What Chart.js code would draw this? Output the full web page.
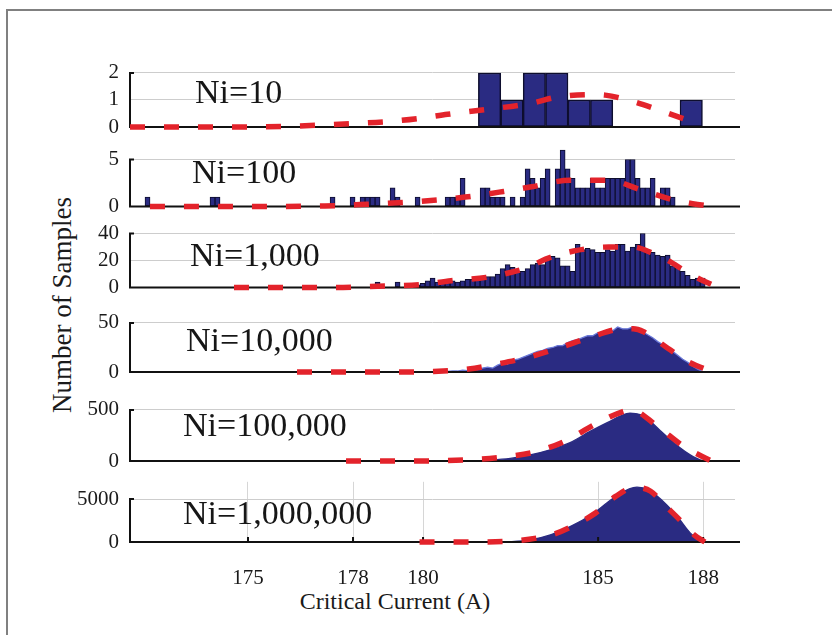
<!DOCTYPE html>
<html>
<head>
<meta charset="utf-8">
<script src="https://cdn.jsdelivr.net/npm/chart.js@4.4.1/dist/chart.umd.min.js"></script>
<style>
  body { margin: 0; background: #fff; }
  #wrap { position: relative; width: 832px; height: 635px; overflow: hidden; font-family: "Liberation Serif", "Times New Roman", serif; }
  #frame { position: absolute; left: 6px; top: 9px; width: 840px; height: 640px; border-top: 2px solid #808080; border-left: 2px solid #808080; }
  canvas { position: absolute; left: 0; }
  .ni { position: absolute; font-size: 34px; line-height: 34px; color: #161616; white-space: nowrap; z-index: 5; }
  #ytitle { position: absolute; width: 300px; left: -88px; top: 290px; text-align: center; font-size: 27px; line-height: 30px; color: #1a1a1a; transform: rotate(-90deg); white-space: nowrap; }
  #xtitle { position: absolute; width: 300px; left: 245px; top: 586px; text-align: center; font-size: 24px; line-height: 30px; color: #1a1a1a; white-space: nowrap; }
</style>
</head>
<body>
<div id="wrap">
  <div id="frame"></div>
  <div id="ytitle">Number of Samples</div>
  <div id="xtitle">Critical Current (A)</div>
</div>
<script>
// x axis (critical current, A)
const xMin = 171.63, xMax = 188.91;
const xTicks = [175, 178, 180, 185, 188];

const panelLabels = ['Ni=10', 'Ni=100', 'Ni=1,000', 'Ni=10,000', 'Ni=100,000', 'Ni=1,000,000'];

// Ni = 10 : wide bins
const ni10BinStart = 181.9;
const ni10BinWidth = 0.64;
const ni10Counts = [2, 1, 2, 2, 1, 1, 0, 0, 0, 1];
const ni10Ticks = [0, 1, 2];
const ni10FitX = [171.63, 173, 174.5, 176, 177.9, 179.0, 179.9, 180.7, 181.8, 183.1, 183.8, 184.8, 185.2, 185.9, 186.9, 187.9];
const ni10FitY = [0, 0, 0, 0.02, 0.12, 0.2, 0.32, 0.47, 0.65, 0.88, 1.1, 1.2, 1.18, 0.98, 0.55, 0.1];

// Ni = 100, 1,000 and 10,000 share a fine 1/7 A grid
const fineBinStart = 172.13;
const fineBinWidth = 1 / 7;

const ni100Counts = [
  1, 0, 0, 0, 0, 0, 0, 0, 0, 0,
  0, 0, 0, 1, 1, 0, 0, 0, 0, 0,
  0, 0, 0, 0, 0, 0, 0, 0, 0, 0,
  0, 0, 0, 0, 0, 0, 0, 1, 0, 0,
  0, 1, 0, 1, 1, 1, 1, 0, 0, 2,
  1, 0, 0, 0, 1, 0, 0, 0, 0, 0,
  1, 1, 1, 3, 0, 0, 0, 2, 2, 1,
  1, 1, 0, 1, 0, 1, 4, 3, 2, 3,
  4, 0, 4, 6, 4, 3, 2, 2, 2, 3,
  2, 2, 3, 3, 3, 3, 5, 5, 3, 2,
  2, 3, 0, 2, 2, 1
];
const ni100Ticks = [0, 5];
const ni100FitX = [172.2, 175, 177.2, 178.2, 179.9, 181.2, 182.3, 183.1, 184.2, 185.3, 186.2, 187.1, 187.7, 188.3];
const ni100FitY = [0, 0, 0.05, 0.2, 0.55, 1.0, 1.6, 2.1, 2.8, 2.8, 1.8, 0.75, 0.3, 0];

const ni1kFirstBin = 46;
const ni1kCounts = [
  4, 0, 0, 0, 4, 0, 1, 2, 2, 3,
  5, 7, 4, 4, 5, 5, 4, 5, 6, 6,
  7, 7, 8, 8, 10, 14, 17, 15, 12, 12,
  14, 17, 18, 17, 22, 23, 22, 16, 16, 12,
  32, 28, 29, 28, 26, 26, 28, 27, 32, 32,
  27, 30, 32, 40, 28, 26, 24, 23, 24, 16,
  15, 12, 9, 6, 7, 7
];
const ni1kTicks = [0, 20, 40];
const ni1kFitX = [174.6, 176, 177.5, 178.7, 179.9, 180.8, 181.8, 182.7, 183.1, 183.5, 184.3, 185.3, 186.0, 186.5, 187.0, 187.5, 188.0, 188.35];
const ni1kFitY = [0, 0, 0, 1, 2, 5, 7.5, 12.5, 16, 21, 27, 30, 30, 26, 20, 12, 5, 1];

const ni10kFirstBin = 59;
const ni10kCounts = [
  0, 0.5, 1, 1, 2, 1.5, 3, 2.5, 4, 5,
  4, 7, 9, 8, 12, 13, 15, 17, 19, 21,
  22, 24, 25, 27, 27, 30, 32, 33, 35, 37,
  37, 40, 41, 43, 42, 46, 44, 44, 46, 43,
  41, 38, 35, 31, 28, 24, 21, 17, 13, 10,
  6, 3, 0.5
];
const ni10kTicks = [0, 50];
const ni10kFitX = [176.4, 177.5, 178.5, 179.5, 180.3, 181.3, 182.1, 183.0, 184.0, 184.9, 185.7, 186.0, 186.3, 187.0, 187.6, 188.3];
const ni10kFitY = [0, 0, 0, 0, 0.5, 3, 8, 15, 26, 37, 44, 44, 41, 24, 10, 0];

// Ni = 100,000
const ni100kX = [181.34, 181.91, 182.49, 183.06, 183.63, 184.2, 184.77, 185.34, 185.63, 185.91, 186.2, 186.49, 186.77, 187.06, 187.34, 187.63, 187.91, 188.14];
const ni100kY = [0, 8, 25, 60, 110, 180, 290, 390, 440, 470, 455, 390, 300, 210, 130, 60, 12, 0];
const ni100kTicks = [0, 500];
const ni100kFitX = [177.8, 178.8, 179.8, 180.6, 181.5, 182.3, 183.17, 184.03, 184.89, 185.71, 185.95, 186.69, 187.46, 188.23];
const ni100kFitY = [0, 0, 0, 3, 15, 40, 87, 190, 355, 485, 500, 340, 140, 0];

// Ni = 1,000,000
const ni1mX = [182.0, 182.49, 183.06, 183.66, 184.23, 184.83, 185.4, 185.89, 186.11, 186.46, 186.94, 187.29, 187.63, 187.86, 187.97];
const ni1mY = [0, 40, 250, 866, 1850, 3230, 5000, 6180, 6380, 6000, 4400, 2830, 1060, 280, 0];
const ni1mTicks = [0, 5000];
const ni1mFitX = [179.9, 180.8, 181.6, 182.5, 183.3, 183.8, 184.2, 184.9, 185.5, 186.05, 186.5, 186.9, 187.35, 187.75, 188.05];
const ni1mFitY = [0, 0, 0, 100, 500, 1000, 1700, 3300, 5300, 6350, 5900, 4300, 2500, 800, 0];

Chart.defaults.font.family = '"Liberation Serif", "Times New Roman", serif';
Chart.defaults.color = '#1a1a1a';

const NAVY = '#2a2b82', EDGE = '#0e0e2e', RED = '#e3232b';

function bins(start, width, counts) {
  return counts.map((c, i) => ({ x: start + i * width, y: c }));
}
function pairs(xs, ys) {
  return xs.map((x, i) => ({ x: x, y: ys[i] }));
}
function fitSet(xs, ys) {
  return {
    type: 'line', order: 0, data: pairs(xs, ys), borderColor: RED, borderWidth: 5.5,
    borderDash: [15, 19], pointRadius: 0, cubicInterpolationMode: 'monotone', fill: false, clip: false
  };
}
function barSet(points, bw) {
  return {
    type: 'bar', order: 1, data: points, backgroundColor: NAVY, borderColor: EDGE, borderWidth: bw,
    borderSkipped: false, barPercentage: 1, categoryPercentage: 1
  };
}
function areaSet(points, edge, smooth) {
  const ds = {
    type: 'line', order: 1, data: points, backgroundColor: NAVY, borderColor: edge, borderWidth: 1.3,
    pointRadius: 0, fill: 'origin', tension: 0
  };
  if (smooth) ds.cubicInterpolationMode = 'monotone';
  return ds;
}

// zero line, left axis stub, bottom tick marks; drawn under the fit line
const axisLines = {
  id: 'axisLines',
  afterDatasetDraw(chart, args, opts) {
    if (args.index !== 1) return;
    const { ctx, chartArea: a, scales: { x, y } } = chart;
    const y0 = y.getPixelForValue(0), yTop = y.getPixelForValue(opts.top);
    ctx.save();
    ctx.strokeStyle = '#111';
    ctx.lineWidth = 2;
    ctx.beginPath();
    ctx.moveTo(a.left - 1, y0); ctx.lineTo(a.right + 5, y0);
    ctx.moveTo(a.left + 4, yTop); ctx.lineTo(a.left, yTop); ctx.lineTo(a.left, y0);
    if (x.options.display) {
      x.ticks.forEach(t => {
        const px = x.getPixelForValue(t.value);
        ctx.moveTo(px, y0); ctx.lineTo(px, y0 - 5);
      });
    }
    ctx.stroke();
    ctx.restore();
  }
};

const panels = [
  { top: 66.2, zero: 127, yMax: 2.25, ticks: ni10Ticks, labelY: 92, labelX: 195,
    sets: [fitSet(ni10FitX, ni10FitY), barSet(bins(ni10BinStart, ni10BinWidth, ni10Counts), 1.5)] },
  { top: 144.5, zero: 206.5, yMax: 6.6, ticks: ni100Ticks, labelY: 172, labelX: 192,
    sets: [fitSet(ni100FitX, ni100FitY), barSet(bins(fineBinStart, fineBinWidth, ni100Counts), 1)] },
  { top: 228.1, zero: 287.5, yMax: 44, ticks: ni1kTicks, labelY: 255, labelX: 190,
    sets: [fitSet(ni1kFitX, ni1kFitY), barSet(bins(fineBinStart + ni1kFirstBin * fineBinWidth, fineBinWidth, ni1kCounts), 1)] },
  { top: 317.1, zero: 372, yMax: 56, ticks: ni10kTicks, labelY: 340, labelX: 186,
    sets: [fitSet(ni10kFitX, ni10kFitY), areaSet(bins(fineBinStart + ni10kFirstBin * fineBinWidth, fineBinWidth, ni10kCounts), '#6a78d8', false)] },
  { top: 405.9, zero: 461, yMax: 540, ticks: ni100kTicks, labelY: 425, labelX: 183,
    sets: [fitSet(ni100kFitX, ni100kFitY), areaSet(pairs(ni100kX, ni100kY), NAVY, true)] },
  { top: 481.8, zero: 542, yMax: 7000, ticks: ni1mTicks, labelY: 513, labelX: 183, showX: true,
    sets: [fitSet(ni1mFitX, ni1mFitY), areaSet(pairs(ni1mX, ni1mY), NAVY, true)] }
];

const wrap = document.getElementById('wrap');

panels.forEach((p, i) => {
  const xAxisH = p.showX ? 44 : 0;
  const canvasTop = Math.floor(p.top) - 26;
  const height = Math.ceil(p.zero) + (p.showX ? 2 : 26) + xAxisH - canvasTop;
  const padBottom = canvasTop + height - xAxisH - p.zero;

  const canvas = document.createElement('canvas');
  canvas.width = 832;
  canvas.height = height;
  canvas.style.top = canvasTop + 'px';
  wrap.appendChild(canvas);

  const label = document.createElement('div');
  label.className = 'ni';
  label.textContent = panelLabels[i];
  label.style.left = p.labelX + 'px';
  label.style.top = (p.labelY - 17) + 'px';
  wrap.appendChild(label);

  new Chart(canvas, {
    type: 'bar',
    data: { datasets: p.sets },
    options: {
      responsive: false,
      animation: false,
      layout: { padding: { left: 0, right: 97, top: p.top - canvasTop, bottom: padBottom } },
      plugins: { legend: { display: false }, tooltip: { enabled: false }, axisLines: { top: p.ticks[p.ticks.length - 1] } },
      scales: {
        x: {
          type: 'linear', min: xMin, max: xMax, offset: false,
          display: !!p.showX,
          afterBuildTicks: s => { s.ticks = xTicks.map(v => ({ value: v })); },
          afterFit: s => { s.height = xAxisH; },
          border: { display: false },
          grid: { display: true, drawTicks: false, offset: false, color: '#d6d6d6', lineWidth: 1 },
          ticks: { padding: 24, autoSkip: false, maxRotation: 0, callback: v => String(v), font: { size: 21 }, color: '#1a1a1a' }
        },
        y: {
          min: 0, max: p.yMax,
          afterBuildTicks: s => { s.ticks = p.ticks.map(v => ({ value: v })); },
          afterFit: s => { s.width = 130; },
          border: { display: false },
          grid: { drawTicks: false, color: c => (c.tick && c.tick.value === 0) ? 'rgba(0,0,0,0)' : '#cdcdcd', lineWidth: 1 },
          ticks: { padding: 11, callback: v => String(v), font: { size: 21 }, color: '#1a1a1a' }
        }
      }
    },
    plugins: [axisLines]
  });
});
</script>
</body>
</html>
